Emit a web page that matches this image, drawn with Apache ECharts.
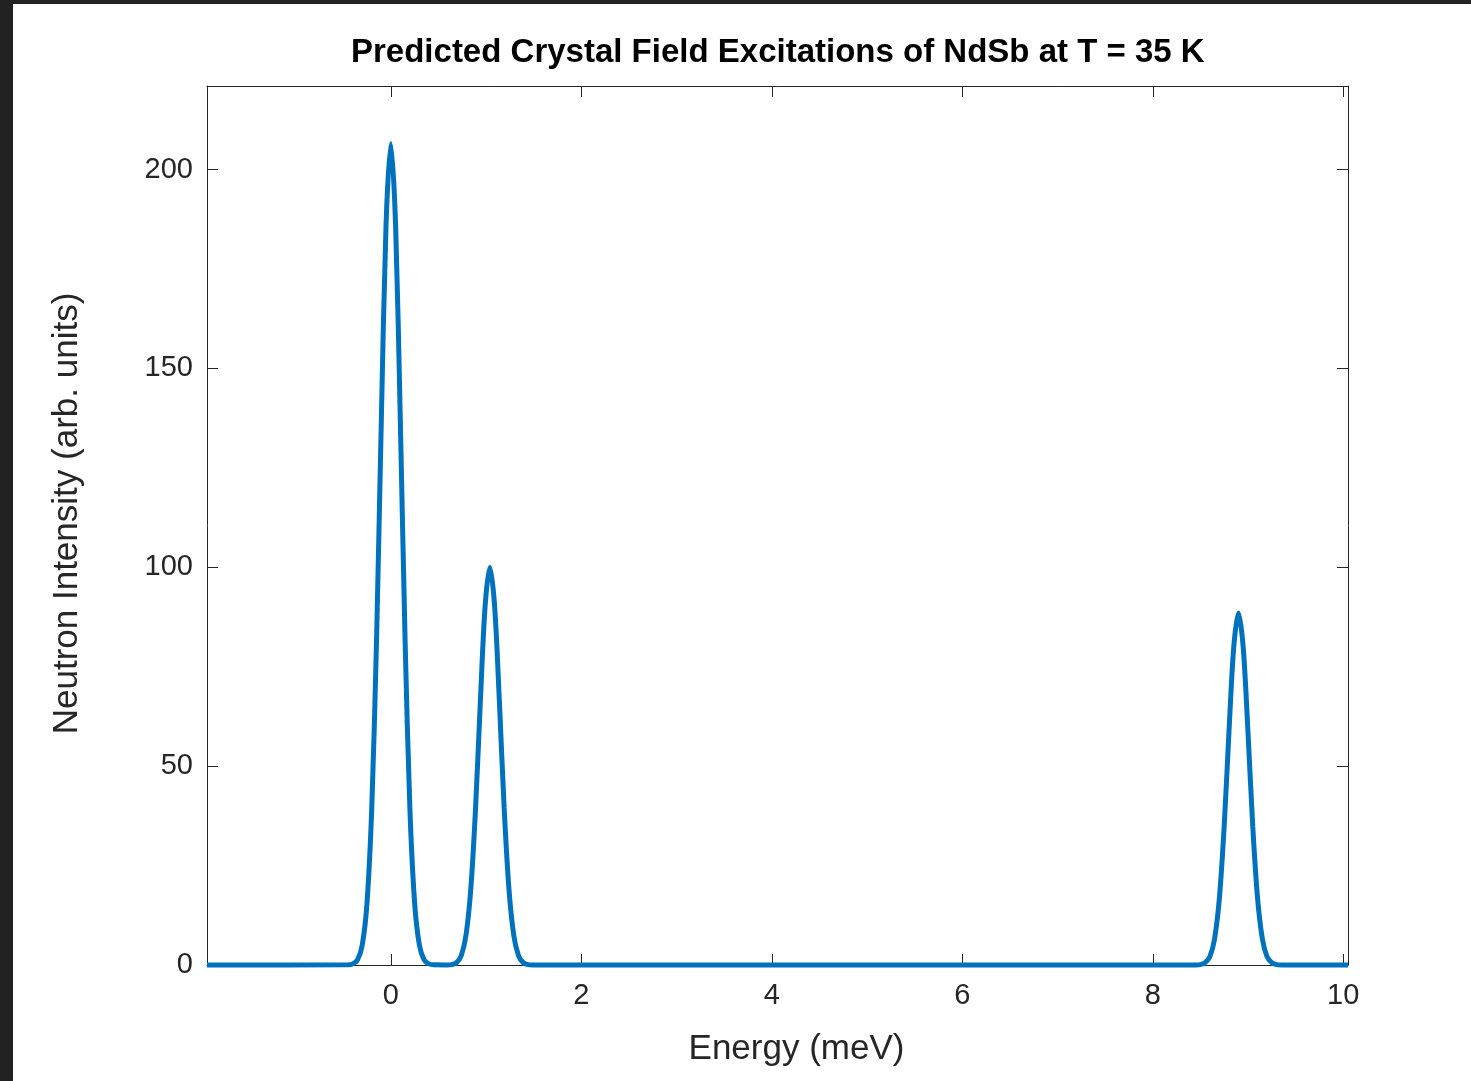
<!DOCTYPE html>
<html>
<head>
<meta charset="utf-8">
<script src="https://cdn.jsdelivr.net/npm/echarts@6/dist/echarts.min.js"></script>
<style>
  html, body { margin: 0; padding: 0; background: #222223; width: 1471px; height: 1081px; overflow: hidden; }
  #grafico { position: absolute; left: 13px; top: 4px; width: 1458px; height: 1077px; background: #ffffff; }
</style>
</head>
<body>
<div id="grafico"></div>
<script>
// Datos (energia en meV, intensidad en u. arb.)
const energia = [
  -1.93,
  -0.45, -0.40, -0.35, -0.30, -0.25, -0.20, -0.15, -0.10, -0.05, 0.00,
  0.05, 0.10, 0.15, 0.20, 0.25, 0.30, 0.35, 0.40, 0.45,
  0.59, 0.64, 0.69, 0.74, 0.79, 0.84, 0.89, 0.94, 0.99, 1.04,
  1.09, 1.14, 1.19, 1.24, 1.29, 1.34, 1.39, 1.44, 1.49,
  8.45, 8.50, 8.55, 8.60, 8.65, 8.70, 8.75, 8.80, 8.85, 8.90,
  8.95, 9.00, 9.05, 9.10, 9.15, 9.20, 9.25, 9.30, 9.35,
  10.05
];
const intensidad = [
  0,
  0.05, 0.28, 1.3, 5.0, 15.6, 39.5, 81.5, 136.6, 186.2, 206.5,
  186.2, 136.6, 81.5, 39.5, 15.6, 5.0, 1.3, 0.28, 0.05,
  0.02, 0.1, 0.6, 2.4, 7.6, 19.2, 39.5, 66.2, 90.2, 100,
  90.2, 66.2, 39.5, 19.2, 7.6, 2.4, 0.6, 0.1, 0.02,
  0.02, 0.1, 0.6, 2.1, 6.7, 16.9, 34.9, 58.5, 79.8, 88.5,
  79.8, 58.5, 34.9, 16.9, 6.7, 2.1, 0.6, 0.1, 0.02,
  0
];
const ticksX = [0, 2, 4, 6, 8, 10];
const ticksY = [0, 50, 100, 150, 200];

const colorEje = '#262626';
const fuente = '"Liberation Sans", Helvetica, Arial, sans-serif';

let puntos = energia.map((e, i) => [e, intensidad[i]]);

function ejeX(extra) {
  return Object.assign({
    type: 'value', min: -1.93, max: 10.05,
    axisLine: { show: true, onZero: false, lineStyle: { color: colorEje, width: 1 } },
    axisTick: { show: true, inside: true, length: 11, customValues: ticksX, lineStyle: { color: colorEje } },
    splitLine: { show: false }
  }, extra);
}
function ejeY(extra) {
  return Object.assign({
    type: 'value', min: 0, max: 221,
    axisLine: { show: true, onZero: false, lineStyle: { color: colorEje, width: 1 } },
    axisTick: { show: true, inside: true, length: 11, customValues: ticksY, lineStyle: { color: colorEje } },
    splitLine: { show: false }
  }, extra);
}

let grafico = echarts.init(document.getElementById('grafico'));
grafico.setOption({
  animation: false,
  backgroundColor: '#ffffff',
  title: {
    text: 'Predicted Crystal Field Excitations of NdSb at T = 35 K',
    left: 333, top: 27,
    textStyle: { fontFamily: fuente, fontWeight: 'bold', fontSize: 33, color: '#000000' }
  },
  grid: { left: 194, top: 82, right: 123, bottom: 116 },
  xAxis: [
    ejeX({
      position: 'bottom',
      name: 'Energy (meV)', nameLocation: 'middle', nameGap: 67,
      nameTextStyle: { fontFamily: fuente, fontSize: 35, color: colorEje, padding: [0, 0, 0, 38] },
      axisLabel: { customValues: ticksX, margin: 16, fontFamily: fuente, fontSize: 29, color: colorEje }
    }),
    ejeX({ position: 'top', axisLabel: { show: false } })
  ],
  yAxis: [
    ejeY({
      position: 'left',
      name: 'Neutron Intensity (arb. units)', nameLocation: 'middle', nameGap: 122,
      nameTextStyle: { fontFamily: fuente, fontSize: 35, color: colorEje, padding: [0, 0, 0, 24] },
      axisLabel: { customValues: ticksY, margin: 14, fontFamily: fuente, fontSize: 29, color: colorEje }
    }),
    ejeY({ position: 'right', axisLabel: { show: false } })
  ],
  series: [{
    name: 'Intensidad', type: 'line', data: puntos,
    xAxisIndex: 0, yAxisIndex: 0,
    smooth: 0.3, showSymbol: false, clip: false,
    lineStyle: { color: '#0072BD', width: 5 }
  }]
});
</script>
</body>
</html>
